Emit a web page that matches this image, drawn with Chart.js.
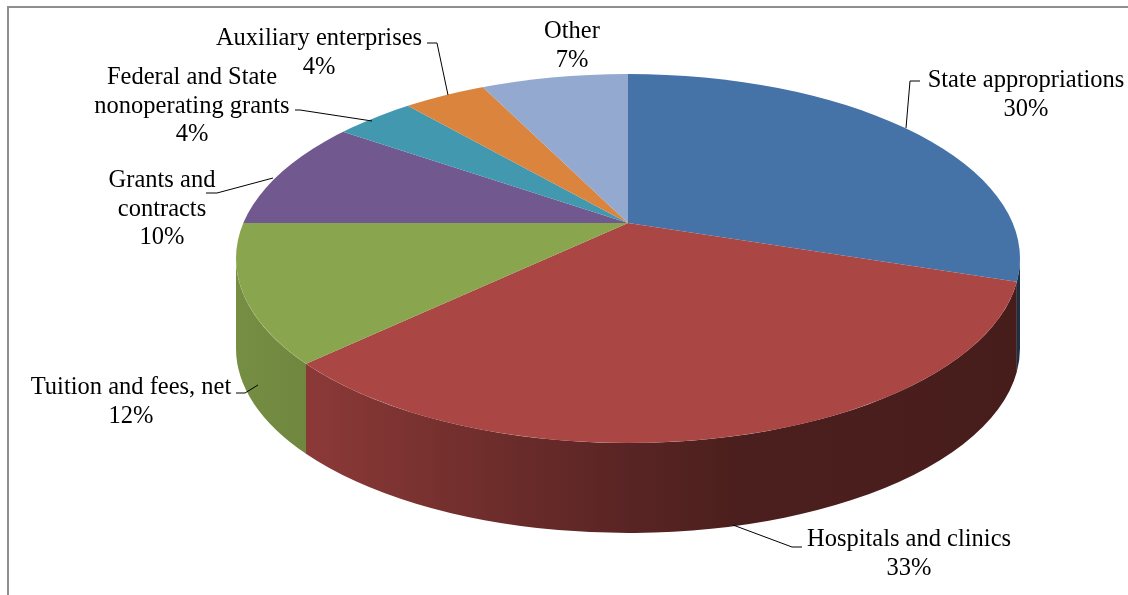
<!DOCTYPE html>
<html>
<head>
<meta charset="utf-8">
<title>Revenue sources</title>
<script src="https://cdn.jsdelivr.net/npm/chart.js@4/dist/chart.umd.min.js"></script>
<style>
  html, body { margin: 0; padding: 0; background: #fff; overflow: hidden; }
  #frame { position: absolute; left: 7px; top: 6px; width: 1200px; height: 700px;
           border: 2px solid #8f8f8f; box-sizing: border-box; }
  #wrap { position: absolute; left: 0; top: 0; width: 1128px; height: 595px; }
</style>
</head>
<body>
<div id="frame"></div>
<div id="wrap"><canvas id="chart"></canvas></div>
<script>
// Revenue by source, share of total (%)
const categories = [
  'State appropriations',
  'Hospitals and clinics',
  'Tuition and fees, net',
  'Grants and contracts',
  'Federal and State nonoperating grants',
  'Auxiliary enterprises',
  'Other'
];
const shares = [30, 33, 12, 10, 4, 4, 7];
const sliceColors = ['#4572A7', '#AA4643', '#89A54E', '#71588F', '#4198AF', '#DB843D', '#93A9CF'];

// Label text lines (the percentage line is appended from the data)
const labelLines = [
  ['State appropriations'],
  ['Hospitals and clinics'],
  ['Tuition and fees, net'],
  ['Grants and', 'contracts'],
  ['Federal and State', 'nonoperating grants'],
  ['Auxiliary enterprises'],
  ['Other']
];

// Rim of the tilted disc (screen ellipse) and wall depth
const RIM = { cx: 628, cy: 258.5, rx: 392, ry: 184.5, depth: 90 };
// Where the slice edges meet (sits behind the rim centre in perspective)
const APEX = { x: 628, y: 223 };
// Screen half-axes of the library-drawn disc before clipping to the rim;
// the far half is squashed a little more than the near half
const DISC = { sx: 520, syFar: 229, syNear: 242 };

// Label placement: centre x, first baseline, leader polyline (screen px)
const LABEL_POS = [
  { x: 1026, y: 87,  leader: [[906, 128], [910, 81], [920, 81]] },
  { x: 909,  y: 546, leader: [[733, 525], [792, 547], [802, 547]] },
  { x: 131,  y: 394, leader: [[258, 385], [245, 393], [236, 393]] },
  { x: 162,  y: 187, leader: [[273, 178], [217, 193], [206, 193]] },
  { x: 192,  y: 84,  leader: [[372, 121], [300, 110], [295, 110]] },
  { x: 319,  y: 45,  leader: [[448, 95], [437, 43], [427, 43]] },
  { x: 572,  y: 38,  leader: null }
];
const LINE_H = 28.5;
const FONT = '24.5px "Liberation Serif", "Times New Roman", serif';

function shade(hex, f) {
  const n = parseInt(hex.slice(1), 16);
  const r = Math.round(((n >> 16) & 255) * f);
  const g = Math.round(((n >> 8) & 255) * f);
  const b = Math.round((n & 255) * f);
  return `rgb(${r},${g},${b})`;
}

// Wall shading across the disc width: lighter on the left, darker on the right
const WALL_STOPS = [[0, 0.86], [0.12, 0.80], [0.25, 0.70], [0.49, 0.53], [0.64, 0.44], [1, 0.42]];

// Ellipse parameter of the rim point hit by a slice edge at library angle theta
function rimParam(theta) {
  const sy = Math.sin(theta) >= 0 ? DISC.syNear : DISC.syFar;
  const dx = DISC.sx * Math.cos(theta), dy = sy * Math.sin(theta);
  const px = (APEX.x - RIM.cx) / RIM.rx, py = (APEX.y - RIM.cy) / RIM.ry;
  const qx = dx / RIM.rx, qy = dy / RIM.ry;
  const a = qx * qx + qy * qy, b = 2 * (px * qx + py * qy), c = px * px + py * py - 1;
  const t = (-b + Math.sqrt(b * b - 4 * a * c)) / (2 * a);
  let phi = Math.atan2(py + t * qy, px + t * qx);
  phi += 2 * Math.PI * Math.round((theta - phi) / (2 * Math.PI));
  return phi;
}

const pie3d = {
  id: 'pie3d',
  beforeDatasetsDraw(chart) {
    const ctx = chart.ctx;
    const arcs = chart.getDatasetMeta(0).data;
    if (!arcs.length) return false;
    const R = arcs[0].outerRadius, ox = arcs[0].x, oy = arcs[0].y;
    const { cx, cy, rx, ry, depth } = RIM;

    // Front walls: only the near half of the rim (0..PI) faces the viewer
    arcs.forEach((arc, i) => {
      const a = Math.max(rimParam(arc.startAngle), 0);
      const b = Math.min(rimParam(arc.endAngle), Math.PI);
      if (b <= a) return;
      const grad = ctx.createLinearGradient(cx - rx, 0, cx + rx, 0);
      WALL_STOPS.forEach(([t, f]) => grad.addColorStop(t, shade(sliceColors[i], f)));
      ctx.save();
      ctx.beginPath();
      ctx.ellipse(cx, cy, rx, ry, 0, a, b, false);
      ctx.ellipse(cx, cy + depth, rx, ry, 0, b, a, true);
      ctx.closePath();
      ctx.fillStyle = grad;
      ctx.fill();
      ctx.restore();
    });

    // Top face: slices drawn by the library, foreshortened and clipped to the rim
    const halves = [[DISC.syFar, 0, APEX.y], [DISC.syNear, APEX.y, chart.height]];
    halves.forEach(([sy, y0, y1]) => {
      ctx.save();
      ctx.beginPath();
      ctx.rect(0, y0, chart.width, y1 - y0);
      ctx.clip();
      ctx.beginPath();
      ctx.ellipse(cx, cy, rx, ry, 0, 0, Math.PI * 2);
      ctx.clip();
      ctx.translate(APEX.x, APEX.y);
      ctx.scale(DISC.sx / R, sy / R);
      ctx.translate(-ox, -oy);
      arcs.forEach(arc => arc.draw(ctx));
      ctx.restore();
    });
    return false;
  },
  afterDraw(chart) {
    const ctx = chart.ctx;
    const total = shares.reduce((s, v) => s + v, 0);
    ctx.save();
    ctx.strokeStyle = '#000';
    ctx.lineWidth = 1;
    LABEL_POS.forEach(p => {
      if (!p.leader) return;
      ctx.beginPath();
      p.leader.forEach(([x, y], k) => k ? ctx.lineTo(x, y) : ctx.moveTo(x, y));
      ctx.stroke();
    });
    ctx.fillStyle = '#000';
    ctx.font = FONT;
    ctx.textAlign = 'center';
    ctx.textBaseline = 'alphabetic';
    shares.forEach((v, i) => {
      const lines = labelLines[i].concat([Math.round(v / total * 100) + '%']);
      const p = LABEL_POS[i];
      lines.forEach((t, k) => ctx.fillText(t, p.x, p.y + k * LINE_H));
    });
    ctx.restore();
  }
};

new Chart(document.getElementById('chart'), {
  type: 'pie',
  data: {
    labels: categories,
    datasets: [{
      data: shares,
      backgroundColor: sliceColors,
      borderWidth: 0
    }]
  },
  options: {
    responsive: true,
    maintainAspectRatio: false,
    animation: false,
    events: [],
    layout: { padding: 0 },
    plugins: { legend: { display: false }, tooltip: { enabled: false } }
  },
  plugins: [pie3d]
});
</script>
</body>
</html>
